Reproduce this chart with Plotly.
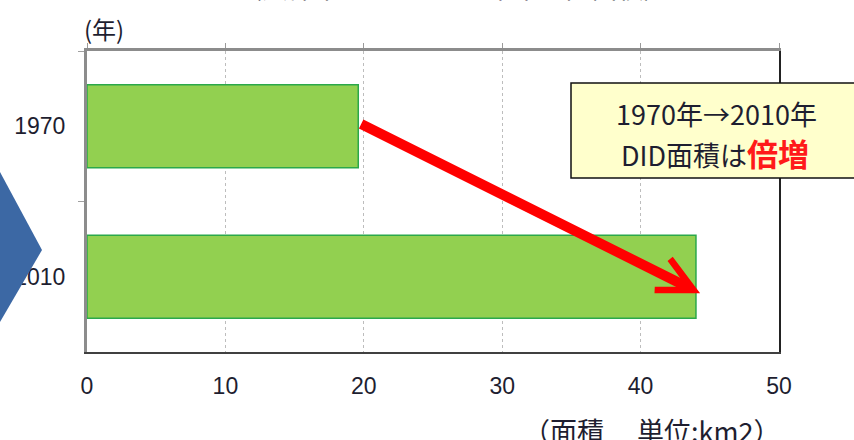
import plotly.graph_objects as go

# ---- data ----
years = ["1970", "2010"]
area = [19.6, 44.0]           # DID area (km2)
x_ticks = [0, 10, 20, 30, 40, 50]

FONT = "Noto Sans CJK JP"
NUMFONT = "Liberation Sans"
TXT = "#1E1E30"

fig = go.Figure()
fig.add_trace(go.Bar(
    y=years, x=area, orientation="h", width=0.553,
    marker=dict(color="#92D050", line=dict(color="#2BA84A", width=1.5)),
    showlegend=False, hoverinfo="skip",
))
# helper trace to activate the frame axes
fig.add_trace(go.Scatter(x=[None], y=[None], xaxis="x2", yaxis="y2",
                         showlegend=False, hoverinfo="skip"))

L, R, T, B = 87, 75, 51, 88
W, H = 854, 440
pw, ph = W - L - R, H - T - B


def px(xp):
    return (xp - L) / pw


def py(yp):
    return (H - B - yp) / ph


fig.update_layout(
    width=W, height=H,
    margin=dict(l=L, r=R, t=T, b=B),
    paper_bgcolor="white", plot_bgcolor="white",
    font=dict(family=FONT, color=TXT, size=21),
    xaxis=dict(range=[0, 50], tickvals=x_ticks, showgrid=True,
               gridcolor="#BDBDBD", griddash="dot", gridwidth=1,
               showline=True, linecolor="#404040", linewidth=2,
               ticks="", zeroline=False, ticklabelstandoff=12,
               tickfont=dict(size=23, family=NUMFONT, color=TXT)),
    xaxis2=dict(overlaying="x", side="top", anchor="y", range=[0, 50],
                tickvals=x_ticks, ticks="outside", ticklen=5,
                tickcolor="#9A9A9A", tickwidth=1, showline=True,
                linecolor="#8C8C8C", linewidth=3, showticklabels=False,
                showgrid=False, zeroline=False),
    yaxis=dict(type="category", categoryorder="array", categoryarray=years,
               autorange="reversed", tickson="boundaries", ticks="outside",
               ticklen=6, tickcolor="#A0A0A0", showline=True,
               linecolor="#8C8C8C", linewidth=3, showgrid=False,
               ticklabelstandoff=14,
               tickfont=dict(size=23, family=NUMFONT, color=TXT)),
    yaxis2=dict(overlaying="y", side="right", anchor="x", range=[0, 1],
                showline=True, linecolor="#222222", linewidth=2,
                showticklabels=False, ticks="", showgrid=False,
                zeroline=False),
    bargap=0.447,
)

shapes = [
    # text box
    dict(type="rect", xref="paper", yref="paper",
         x0=px(571), x1=px(862), y0=py(178), y1=py(83),
         fillcolor="#FFFFCC", line=dict(color="#111111", width=1.5),
         layer="above"),
    # blue chevron at left
    dict(type="path", xref="paper", yref="paper",
         path=f"M {px(-5)},{py(172)} L {px(0)},{py(172)} L {px(42)},{py(250)} "
              f"L {px(0)},{py(322)} L {px(-5)},{py(322)} Z",
         fillcolor="#3C68A4", line=dict(width=0), layer="above"),
]
fig.update_layout(shapes=shapes)

ann = [
    dict(text="(年)", xref="paper", yref="paper", x=px(104), y=py(29),
         xanchor="center", yanchor="middle",
         showarrow=False, font=dict(size=24, family=FONT, color=TXT)),
    dict(text="（面積　 単位:km2）", xref="paper", yref="paper",
         x=px(782), y=py(430), xanchor="right", yanchor="middle",
         showarrow=False, font=dict(size=27, family=FONT, color=TXT)),
    dict(text="（八都市域のDID人口集中地区面積）", xref="paper", yref="paper",
         x=px(452), y=py(-13), xanchor="center", yanchor="middle",
         showarrow=False, font=dict(size=26, family=FONT, color=TXT)),
    dict(text="1970年→2010年", xref="paper", yref="paper",
         x=px(716), y=py(113), xanchor="center", yanchor="middle",
         showarrow=False, font=dict(size=27, family=FONT, color=TXT)),
    dict(text="DID面積は<span style='color:#FF1A1A;font-size:31px'><b>倍増</b></span>",
         xref="paper", yref="paper", x=px(715), y=py(152),
         xanchor="center", yanchor="middle", showarrow=False,
         font=dict(size=27, family=FONT, color=TXT)),
    # red arrow from 1970 bar end to 2010 bar end
    dict(text="", xref="x", yref="y", x=area[1] + 0.3, y=1.11,
         axref="x", ayref="y", ax=area[0] + 0.1, ay=-0.02,
         showarrow=True, arrowhead=5, arrowsize=0.68, arrowwidth=10,
         arrowcolor="#FF0000", standoff=0, startstandoff=0),
]
fig.update_layout(annotations=ann)

fig.write_html("out.html")
